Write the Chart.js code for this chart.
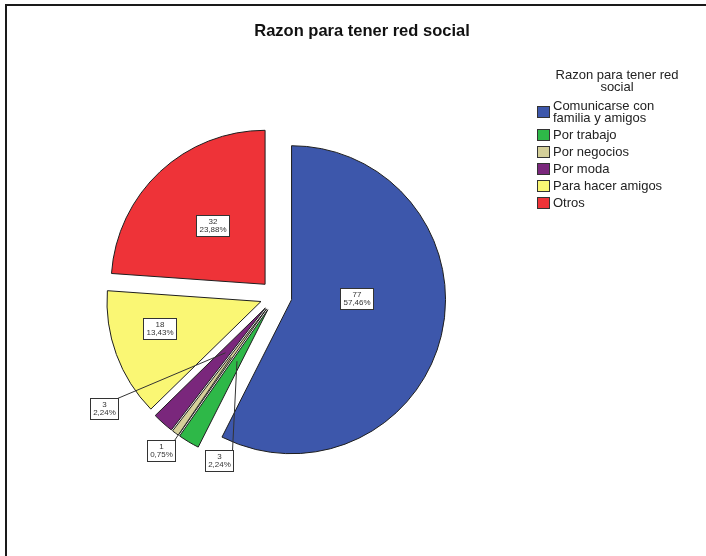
<!DOCTYPE html>
<html>
<head>
<meta charset="utf-8">
<script src="https://cdn.jsdelivr.net/npm/chart.js@4.4.0/dist/chart.umd.min.js"></script>
<style>
  body { margin: 0; background: #fff; }
  #wrap { position: relative; width: 706px; height: 556px; overflow: hidden; background: #fff; }
  #frame { position: absolute; left: 5px; top: 4px; right: -10px; bottom: -10px;
           border-left: 2px solid #1a1a1a; border-top: 2px solid #1a1a1a; }
  #title { position: absolute; left: 9px; top: 20px; width: 706px; text-align: center;
           font: bold 16.5px "Liberation Sans", Arial, sans-serif; line-height: 20px; color: #111; }
  #legend { position: absolute; left: 537px; top: 69px; width: 160px;
            font: 13px "Liberation Sans", Arial, sans-serif; color: #222; }
  #legend .lt { text-align: center; line-height: 12px; width: 136px; margin: 0 auto 7px auto; }
  #legend .item { display: flex; align-items: center; margin-bottom: 5px; }
  #legend .sw { flex: none; width: 13px; height: 12px; box-sizing: border-box;
                border: 1px solid #333; margin-right: 3px; margin-top: -1px; }
  #legend .tx { line-height: 12px; max-width: 125px; }
  canvas { position: absolute; left: 0; top: 0; }
</style>
</head>
<body>
<div id="wrap">
  <div id="frame"></div>
  <canvas id="chartCanvas" width="706" height="556"></canvas>
  <div id="title"></div>
  <div id="legend"></div>
</div>
<script>
// Données
const chartTitle = 'Razon para tener red social';
const legendTitle = 'Razon para tener red social';
const categories = ['Comunicarse con familia y amigos', 'Por trabajo', 'Por negocios', 'Por moda', 'Para hacer amigos', 'Otros'];
const counts = [77, 3, 1, 3, 18, 32];
const colors = ['#3D57AB', '#2EB848', '#D4CF99', '#7A277C', '#FAF774', '#EE3338'];

// Écartement des parts (px) et placement des étiquettes
const EXPLODE = 16;
const labelSpots = [
  { r: 0.42, turn: -14.5 },
  { dx: -57, dy: 164, lead: 60 },
  { dx: -115, dy: 154, lead: 60 },
  { dx: -172, dy: 112, lead: 60 },
  { r: 0.68, turn: 5 },
  { r: 0.51, turn: 1 }
];

const total = counts.reduce((a, b) => a + b, 0);
function pctText(v) {
  return (v * 100 / total).toFixed(2).replace('.', ',') + '%';
}

// Titre et légende
document.getElementById('title').textContent = chartTitle;
var legend = document.getElementById('legend');
var lt = document.createElement('div');
lt.className = 'lt';
lt.textContent = legendTitle;
legend.appendChild(lt);
categories.forEach((c, i) => {
  var item = document.createElement('div');
  item.className = 'item';
  var sw = document.createElement('span');
  sw.className = 'sw';
  sw.style.background = colors[i];
  var tx = document.createElement('span');
  tx.className = 'tx';
  tx.textContent = c;
  item.appendChild(sw);
  item.appendChild(tx);
  legend.appendChild(item);
});

// Écarter chaque part le long de sa bissectrice (même distance pour toutes)
const explodeSlices = {
  id: 'explodeSlices',
  afterDatasetUpdate(chart, args) {
    const meta = chart.getDatasetMeta(args.index);
    meta.data.forEach(arc => {
      const mid = (arc.startAngle + arc.endAngle) / 2;
      arc.x += Math.cos(mid) * EXPLODE;
      arc.y += Math.sin(mid) * EXPLODE;
    });
  }
};

// Étiquettes en boîtes (valeur + pourcentage)
const boxLabels = {
  id: 'boxLabels',
  afterDatasetsDraw(chart) {
    const ctx = chart.ctx;
    const area = chart.chartArea;
    const cx0 = (area.left + area.right) / 2;
    const cy0 = (area.top + area.bottom) / 2;
    const meta = chart.getDatasetMeta(0);
    ctx.save();
    ctx.font = '8px "Liberation Sans", Arial, sans-serif';
    ctx.textAlign = 'center';
    ctx.textBaseline = 'middle';
    const boxes = [];
    meta.data.forEach((arc, i) => {
      const p = arc.getProps(['x', 'y', 'startAngle', 'endAngle', 'outerRadius'], true);
      const mid = (p.startAngle + p.endAngle) / 2;
      const spot = labelSpots[i];
      const lines = [String(counts[i]), pctText(counts[i])];
      const w = Math.ceil(Math.max(...lines.map(t => ctx.measureText(t).width))) + 5;
      const h = 21;
      let cx, cy;
      if (spot.lead) {
        cx = cx0 + spot.dx;
        cy = cy0 + spot.dy;
        const tx = p.x + Math.cos(mid) * spot.lead;
        const ty = p.y + Math.sin(mid) * spot.lead;
        ctx.strokeStyle = '#333';
        ctx.lineWidth = 1;
        ctx.beginPath();
        ctx.moveTo(Math.round(cx + w / 2) - 0.5, Math.round(cy - h / 2) + 0.5);
        ctx.lineTo(tx, ty);
        ctx.stroke();
      } else {
        const a = mid + spot.turn * Math.PI / 180;
        cx = p.x + Math.cos(a) * p.outerRadius * spot.r;
        cy = p.y + Math.sin(a) * p.outerRadius * spot.r;
      }
      boxes.push({ cx, cy, w, h, lines });
    });
    boxes.forEach(b => {
      const x = Math.round(b.cx - b.w / 2) + 0.5;
      const y = Math.round(b.cy - b.h / 2) + 0.5;
      ctx.fillStyle = '#fff';
      ctx.fillRect(x, y, b.w, b.h);
      ctx.strokeStyle = '#333';
      ctx.lineWidth = 1;
      ctx.strokeRect(x, y, b.w, b.h);
      ctx.fillStyle = '#333';
      ctx.fillText(b.lines[0], x + b.w / 2, y + 6.5);
      ctx.fillText(b.lines[1], x + b.w / 2, y + 14.5);
    });
    ctx.restore();
  }
};

var canvas = document.getElementById('chartCanvas');
var chart = new Chart(canvas, {
  type: 'pie',
  data: {
    labels: categories,
    datasets: [{
      data: counts,
      backgroundColor: colors,
      borderColor: '#1e1e1e',
      borderWidth: 1,
      borderJoinStyle: 'miter',
      hoverOffset: 0,
      radius: 154
    }]
  },
  options: {
    responsive: false,
    animation: false,
    events: [],
    layout: { padding: { left: 20, right: 174, top: 49, bottom: 13 } },
    plugins: {
      legend: { display: false },
      tooltip: { enabled: false },
      title: { display: false }
    }
  },
  plugins: [explodeSlices, boxLabels]
});
</script>
</body>
</html>
